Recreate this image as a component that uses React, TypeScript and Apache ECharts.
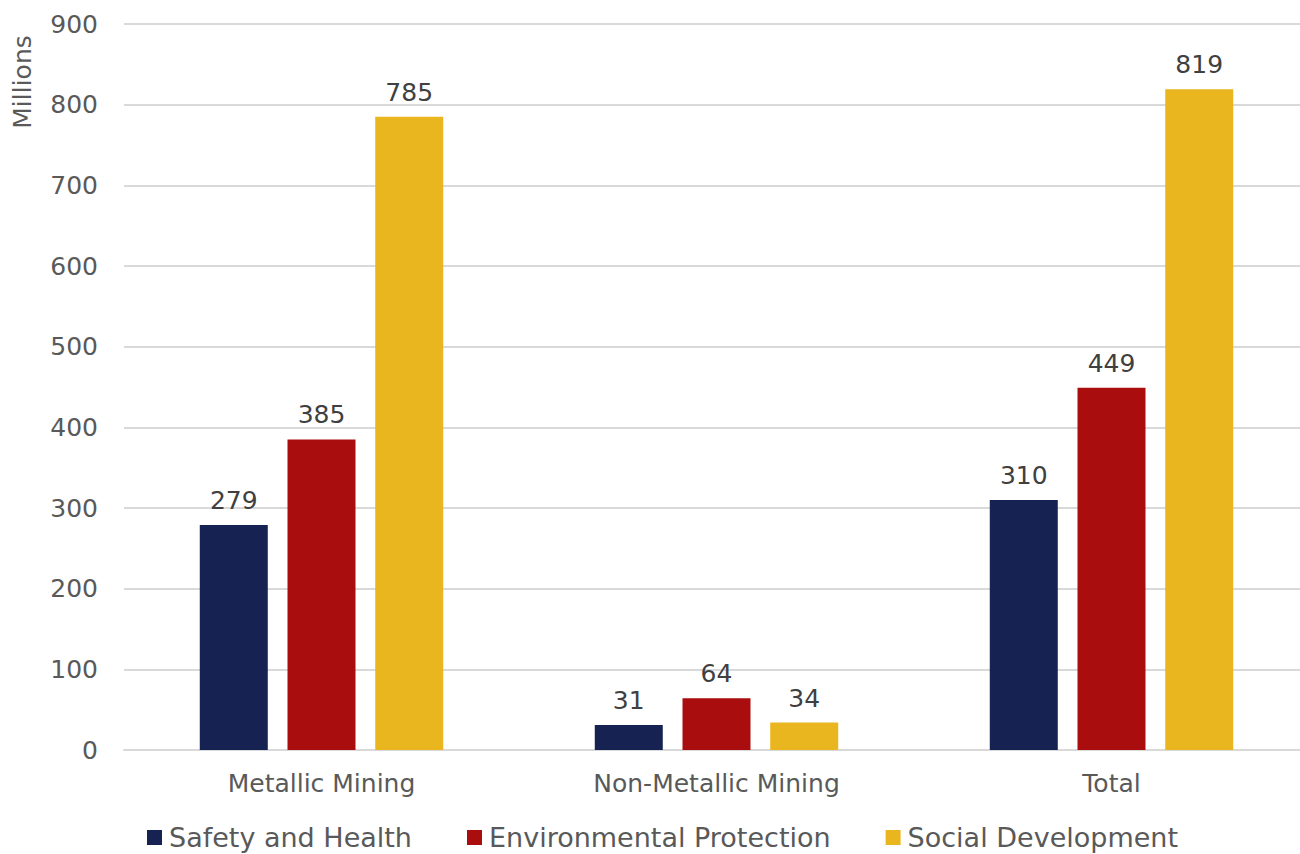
import React, { useEffect, useRef } from "react";
import * as echarts from "echarts";

const categories = ["Metallic Mining", "Non-Metallic Mining", "Total"];
const safetyHealth = [279, 31, 310];
const environmental = [385, 64, 449];
const social = [785, 34, 819];
const seriesNames = ["Safety and Health", "Environmental Protection", "Social Development"];
const colors = ["#162252", "#AA0D0E", "#E9B61F"];

const FONT = "DejaVu Sans";

export default function App() {
  const ref = useRef<HTMLDivElement>(null);
  useEffect(() => {
    document.body.style.margin = "0";
    document.body.style.overflow = "hidden";
    const chart = echarts.init(ref.current!, null, { renderer: "svg" });
    const data = [safetyHealth, environmental, social];
    chart.setOption({
      animation: false,
      textStyle: { fontFamily: FONT },
      grid: { left: 124, width: 1185, top: 24, bottom: 104, containLabel: false },
      xAxis: {
        type: "category",
        data: categories,
        axisLine: { lineStyle: { color: "#d9d9d9", width: 2 } },
        axisTick: { show: false },
        axisLabel: { color: "#595959", fontSize: 25, margin: 21, fontFamily: FONT },
      },
      yAxis: {
        type: "value",
        min: 0,
        max: 900,
        interval: 100,
        axisLine: { show: false },
        axisTick: { show: false },
        splitLine: { lineStyle: { color: "#d9d9d9", width: 2 } },
        axisLabel: { color: "#595959", fontSize: 25, margin: 26, fontFamily: FONT },
      },
      legend: {
        bottom: -2,
        left: 142,
        itemWidth: 15,
        itemHeight: 15,
        itemGap: 55,
        icon: "rect",
        textStyle: { color: "#595959", fontSize: 27, fontFamily: FONT, padding: [0, 0, 0, 2] },
        data: seriesNames,
      },
      graphic: [
        {
          type: "text",
          x: 22,
          y: 82,
          rotation: Math.PI / 2,
          style: {
            text: "Millions",
            fill: "#595959",
            fontSize: 25,
            fontFamily: FONT,
            align: "center",
            verticalAlign: "middle",
          },
        },
      ],
      series: seriesNames.map((name, i) => ({
        name,
        type: "bar",
        data: data[i],
        barWidth: 68,
        barGap: "29%",
        itemStyle: { color: colors[i] },
        label: {
          show: true,
          position: "top",
          distance: 12,
          color: "#404040",
          fontSize: 25,
          fontFamily: FONT,
        },
      })),
    });
    return () => chart.dispose();
  }, []);
  return <div ref={ref} style={{ width: 1310, height: 854 }} />;
}
